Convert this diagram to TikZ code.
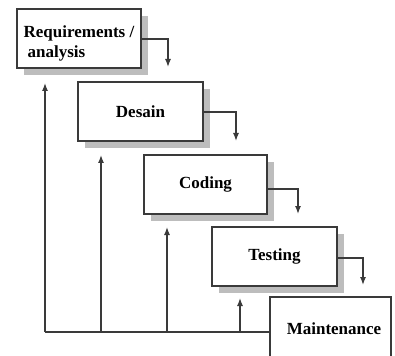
\documentclass[tikz,border=0pt]{standalone}
\usepackage{fontspec}
\setmainfont{Liberation Serif}
\usetikzlibrary{shadows,arrows.meta}
\definecolor{linegray}{HTML}{3A3A3A}
\definecolor{shadowgray}{HTML}{BDBDBD}
\tikzset{
  phase/.style={draw=linegray, line width=1.4pt, fill=white, inner sep=0pt,
    font=\fontsize{17}{20}\selectfont\bfseries,
    drop shadow={shadow xshift=6.5pt, shadow yshift=-7pt, fill=shadowgray, opacity=1}},
  flow/.style={draw=linegray, line width=1.3pt,
    -{Latex[length=8pt,width=6pt]}},
  link/.style={draw=linegray, line width=1.3pt}
}
\begin{document}
\begin{tikzpicture}[x=1pt,y=-1pt]
\useasboundingbox (0,0) rectangle (395,355);
\clip (0,0) rectangle (395,355);
% phases of the waterfall
\node[phase, minimum width=124pt, minimum height=59pt] (req) at (79,38.5)
  {\raisebox{-5pt}[\height][\depth]{\begin{tabular}{@{}l@{}}Requirements /\\\hspace{4pt}analysis\end{tabular}}};
\node[phase, minimum width=125pt, minimum height=59pt] (des) at (140.5,111.5) {Desain};
\node[phase, minimum width=123pt, minimum height=59pt] (cod) at (205.5,184.5) {Coding};
\node[phase, minimum width=125pt, minimum height=59pt] (tes) at (274.5,256.5) {Testing};
\node[draw=linegray, line width=1.4pt, fill=white, inner sep=0pt,
  font=\fontsize{17}{20}\selectfont\bfseries,
  minimum width=121pt, minimum height=63pt] (mai) at (330.5,328.5) {\hspace{7pt}Maintenance};
% downward steps
\coordinate (r1) at (168,39);  \coordinate (r2) at (168,67);
\coordinate (d1) at (236,112); \coordinate (d2) at (236,141);
\coordinate (c1) at (298,189); \coordinate (c2) at (298,214);
\coordinate (t1) at (363,258); \coordinate (t2) at (363,285);
\draw[flow] (req.east |- r1) -- (r1) -- (r2);
\draw[flow] (des.east |- d1) -- (d1) -- (d2);
\draw[flow] (cod.east |- c1) -- (c1) -- (c2);
\draw[flow] (tes.east |- t1) -- (t1) -- (t2);
% feedback from maintenance
\coordinate (b0) at (45,332);
\coordinate (b1) at (101,332);
\coordinate (b2) at (167,332);
\coordinate (b3) at (240,332);
\coordinate (u0) at (45,83);
\coordinate (u1) at (101,155);
\coordinate (u2) at (167,227);
\coordinate (u3) at (240,298);
\draw[link] (mai.west |- b0) -- (b0);
\draw[flow] (b0) -- (u0);
\draw[flow] (b1) -- (u1);
\draw[flow] (b2) -- (u2);
\draw[flow] (b3) -- (u3);
\end{tikzpicture}
\end{document}
